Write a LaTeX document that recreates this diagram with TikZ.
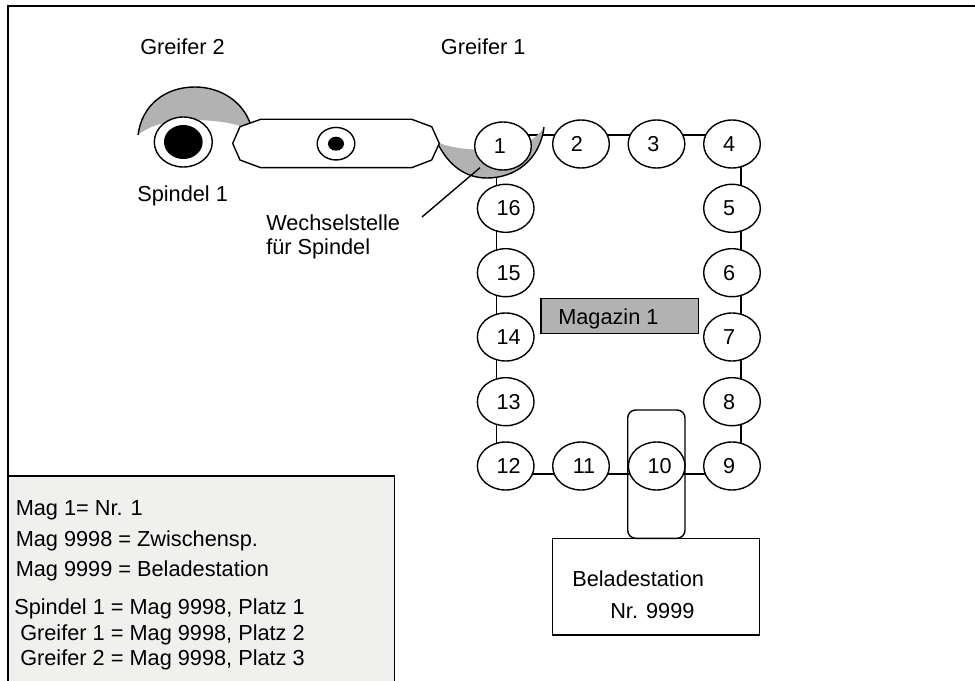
\documentclass[tikz,border=0pt]{standalone}
\usepackage{fontspec}
\setmainfont{Liberation Sans}
\definecolor{crescent}{HTML}{B2B2B2}
\definecolor{legendbg}{HTML}{F0F0EE}
\pgfdeclarelayer{rails}
\pgfdeclarelayer{mid}
\pgfsetlayers{rails,mid,main}
\newcommand{\numshift}[2]{\hspace*{#1}#2}
\tikzset{
  x=0.75pt,y=-0.75pt,
  ln/.style={draw=black,line width=1.05pt},
  slot/.style={ellipse,ln,fill=white,minimum width=42.5pt,minimum height=36pt,inner sep=0pt,font=\fontsize{16.2}{18}\selectfont},
  lab/.style={anchor=base west,inner sep=0pt,font=\fontsize{16.3}{18}\selectfont}
}
\usetikzlibrary{shapes.geometric}
\begin{document}
\begin{tikzpicture}
\useasboundingbox (0,0) rectangle (975,681);
\clip (0,0) rectangle (975,681);
% frame and legend
\draw[line width=1.5pt] (7.5,681) -- (7.5,6.5) -- (975,6.5);
\path[fill=legendbg] (8,476) rectangle (394.5,681);
\draw[ln] (7.5,476) -- (394.5,476) -- (394.5,681);
\draw[line width=1.5pt] (7.5,476) -- (7.5,681);
% slots
\node[slot] (n1) at (503,146) {\numshift{-4.5pt}{1}};
\node[slot] (n2) at (581,144) {\numshift{-6pt}{2}};
\node[slot] (n3) at (656.5,144) {\numshift{-4.5pt}{3}};
\node[slot] (n4) at (732,144) {\numshift{-4.5pt}{4}};
\node[slot] (n5) at (732,208.3) {\numshift{-4.5pt}{5}};
\node[slot] (n6) at (732,272.7) {\numshift{-4.5pt}{6}};
\node[slot] (n7) at (732,337) {\numshift{-4.5pt}{7}};
\node[slot] (n8) at (732,401.7) {\numshift{-4.5pt}{8}};
\node[slot] (n9) at (732,466) {\numshift{-4.5pt}{9}};
\node[slot] (n10) at (656.7,466) {\numshift{4.5pt}{10}};
\node[slot] (n11) at (581,466) {\numshift{4.5pt}{11}};
\node[slot] (n12) at (505.7,466) {\numshift{4.5pt}{12}};
\node[slot] (n13) at (505.7,401.7) {\numshift{4.5pt}{13}};
\node[slot] (n14) at (505.7,337) {\numshift{4.5pt}{14}};
\node[slot] (n15) at (505.7,272.7) {\numshift{4.5pt}{15}};
\node[slot] (n16) at (505.7,208.3) {\numshift{4.5pt}{16}};
% rail connectors
\coordinate (railL) at (496.3,0);
\coordinate (railR) at (741,0);
\coordinate (railT) at (0,135);
\coordinate (railB) at (0,474);
\begin{pgfonlayer}{rails}
\foreach \a/\b in {n1/n2,n2/n3,n3/n4}
  \draw[ln] (\a |- railT) -- (\b |- railT);
\foreach \a/\b in {n4/n5,n5/n6,n6/n7,n7/n8,n8/n9}
  \draw[ln] (railR |- \a) -- (railR |- \b);
\foreach \a/\b in {n9/n10,n10/n11,n11/n12}
  \draw[ln] (\a |- railB) -- (\b |- railB);
\foreach \a/\b in {n12/n13,n13/n14,n14/n15,n15/n16,n16/n1}
  \draw[ln] (railL |- \a) -- (railL |- \b);
\end{pgfonlayer}
% grippers
\begin{pgfonlayer}{mid}
\fill[crescent] (138,135) .. controls (142,105) and (165,87) .. (195,87)
  .. controls (222,87) and (243,103) .. (250,123) -- (252,128) -- (240,126)
  .. controls (225,121) and (205,120) .. (190,120)
  .. controls (170,120) and (150,125) .. (138,135) -- cycle;
\draw[ln] (138,135) .. controls (142,105) and (165,87) .. (195,87)
  .. controls (222,87) and (243,103) .. (250,123);
\fill[crescent] (437,142) .. controls (448,165) and (465,178) .. (487,178)
  .. controls (515,178) and (540,160) .. (544,127)
  .. controls (535,142) and (515,150) .. (490,150)
  .. controls (470,150) and (450,148) .. (437,142) -- cycle;
\draw[ln] (437,142) .. controls (448,165) and (465,178) .. (487,178)
  .. controls (515,178) and (540,160) .. (544,127);
\end{pgfonlayer}
\draw[ln,fill=white] (232.7,143.4) -- (240,126.7) -- (260.7,119.3) -- (411.7,119.3) -- (431.7,126.7)
  -- (439.3,143.4) -- (431.7,160) -- (411.7,167.7) -- (260.7,167.7) -- (240,160) -- cycle;
\node[ellipse,ln,fill=white,minimum width=43.5pt,minimum height=37.5pt,inner sep=0pt] (spindleO) at (183.3,142) {};
\node[ellipse,fill=black,minimum width=29pt,minimum height=25.5pt,inner sep=0pt] (spindleI) at (183.3,142) {};
\node[ellipse,ln,fill=white,minimum width=28.2pt,minimum height=24.4pt,inner sep=0pt] (hubO) at (336,143.7) {};
\node[ellipse,fill=black,minimum width=12pt,minimum height=10.5pt,inner sep=0pt] (hubI) at (336,143.7) {};
% pointer
\coordinate (ptrA) at (480,167.7);
\coordinate (ptrB) at (422,217);
\draw[ln] (ptrA) -- (ptrB);
% Magazin
\node[ln,fill=crescent,minimum width=118.4pt,minimum height=26pt,inner sep=0pt] (mag) at (619.8,316) {};
\node[lab] (magt) at (558,324) {Magazin 1};
% Beladestation
\draw[ln,rounded corners=6pt] (627.7,410) rectangle (685,538.3);
\node[ln,minimum width=155.2pt,minimum height=72.5pt,inner sep=0pt] (bela) at (656.2,586.7) {};
\node[lab] (belat) at (572,586.7) {Beladestation};
\node[lab] (belan) at (610,618) {Nr. 9999};
% labels
\node[lab] (g2) at (140,55) {Greifer 2};
\node[lab] (g1) at (440.7,55) {Greifer 1};
\node[lab] (sp) at (137,201.7) {Spindel 1};
\node[lab] (w1) at (266,230.7) {Wechselstelle};
\node[lab] (w2) at (266,255) {für Spindel};
% legend text
\node[lab] (l1) at (15.5,515) {Mag 1= Nr. 1};
\node[lab] (l2) at (15.5,546.7) {Mag 9998 = Zwischensp.};
\node[lab] (l3) at (15.5,576.7) {Mag 9999 = Beladestation};
\node[lab] (l4) at (14,614) {Spindel 1 = Mag 9998, Platz 1};
\node[lab] (l5) at (20,640) {Greifer 1 = Mag 9998, Platz 2};
\node[lab] (l6) at (20,665) {Greifer 2 = Mag 9998, Platz 3};
\end{tikzpicture}
\end{document}
